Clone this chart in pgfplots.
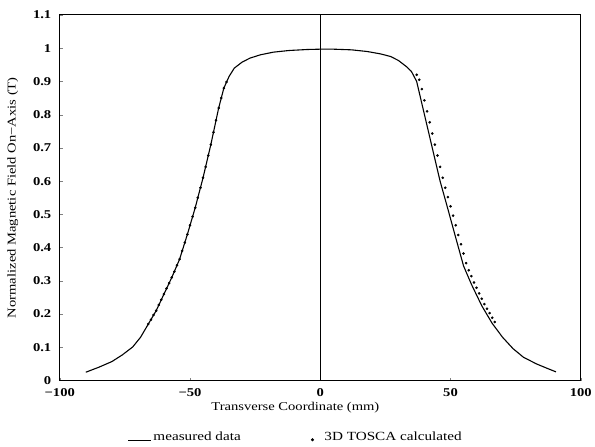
\documentclass[border=0pt]{standalone}
\usepackage{fontspec}
\setmainfont{Liberation Serif}[FakeStretch=1.22]
\usepackage{pgfplots}
\pgfplotsset{compat=1.18}

\begin{document}
\begin{tikzpicture}
\begin{axis}[
    scale only axis,
    width=523pt, height=367pt,
    xmin=-100, xmax=100, ymin=0, ymax=1.1,
    xtick={-100,-50,0,50,100},
    ytick={0,0.1,0.2,0.3,0.4,0.5,0.6,0.7,0.8,0.9,1,1.1},
    yticklabels={0,0.1,0.2,0.3,0.4,0.5,0.6,0.7,0.8,0.9,1,1.1},
    xticklabels={−100,−50,0,50,100},
    tick pos=left,
    tick align=inside,
    major tick length=3pt,
    axis line style={line width=1pt},
    ticklabel style={font=\fontsize{12}{14}\selectfont\bfseries},
    xticklabel style={yshift=-5pt},
    yticklabel style={xshift=-5pt},
    xlabel={Transverse Coordinate (mm)},
    ylabel={Normalized Magnetic Field On−Axis (T)},
    label style={font=\fontsize{12}{14}\selectfont},
    xlabel style={yshift=2pt, xshift=-25pt},
    ylabel style={yshift=8pt},
    legend columns=2,
    legend style={draw=none, at={(0.453,-0.13)}, anchor=north,
        font=\fontsize{12.5}{14}\selectfont,
        /tikz/every even column/.append style={column sep=57pt}},
]
% vertical line at x = 0
\addplot[black, line width=1pt, forget plot] coordinates {(0,0) (0,1.1)};

% measured data
\addplot[black, line width=1.1pt, line join=round,
    legend image code/.code={\draw[black, line width=0.7pt] (0pt,-3pt) -- (23pt,-3pt);}]
coordinates {
(-90,0.025) (-85,0.04) (-80,0.057) (-76,0.077) (-72,0.101) (-69,0.13)
(-66,0.17) (-63,0.21) (-60,0.26) (-57,0.31) (-54,0.365) (-51,0.44)
(-48,0.52) (-45,0.61) (-42,0.71) (-39,0.82) (-37,0.88) (-35,0.915)
(-33,0.94) (-30,0.958) (-27,0.97) (-23,0.98) (-18,0.988) (-12,0.993)
(-5,0.996) (0,0.997) (5,0.997) (12,0.995) (18,0.99) (23,0.983)
(27,0.975) (30,0.963) (33,0.945) (35,0.93) (37,0.90) (40,0.80)
(43,0.70) (46,0.60) (48.5,0.53) (52,0.43) (55,0.345) (58,0.29)
(62,0.225) (66,0.172) (70,0.13) (74,0.096) (78,0.07) (83,0.05)
(87,0.037) (90.5,0.026)
};
\addlegendentry{measured data}

% 3D TOSCA calculated
\addplot[only marks, mark=*, mark size=1.1pt, black,
    legend image code/.code={\path[draw=none] (0pt,0pt) -- (23pt,0pt);
        \fill[black] (13pt,-2.5pt) circle (1.3pt);}]
coordinates {
(-66,0.17) (-65,0.183) (-64,0.197) (-63,0.21) (-62,0.227) (-61,0.243)
(-60,0.26) (-59,0.277) (-58,0.293) (-57,0.31) (-56,0.328) (-55,0.347)
(-54,0.365) (-53,0.39) (-52,0.415) (-51,0.44) (-50,0.467) (-49,0.493)
(-48,0.52) (-47,0.55) (-46,0.58) (-45,0.61) (-44,0.643) (-43,0.677)
(-42,0.71) (-41,0.747) (-40,0.783) (-39,0.82) (-38,0.85) (-37,0.88)
(-36,0.898)
(37,0.92) (38,0.905) (39,0.877) (40,0.843) (41,0.81) (42,0.777)
(43,0.743) (44,0.71) (45,0.677) (46,0.643) (47,0.61) (48,0.58)
(49,0.552) (50,0.524) (51,0.496) (52,0.467) (53,0.438) (54,0.41)
(55,0.382) (56,0.353) (57,0.332) (58,0.314) (59,0.295) (60,0.279)
(61,0.262) (62,0.246) (63,0.23) (64,0.216) (65,0.203) (66,0.189)
(67,0.176)
};
\addlegendentry{3D TOSCA calculated}
\end{axis}
\path[use as bounding box] (-60pt,-65pt) rectangle (535pt,382pt);
\end{tikzpicture}
\end{document}
